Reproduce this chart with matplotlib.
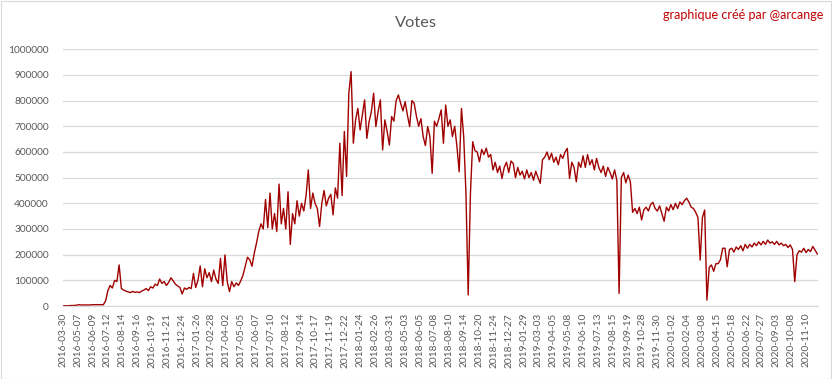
import matplotlib
matplotlib.use("Agg")
import matplotlib.pyplot as plt
from matplotlib.patches import Rectangle
import numpy as np

# tick labels (one every 33 categories)
tick_labels = [
    "2016-03-30", "2016-05-07", "2016-06-09", "2016-07-12", "2016-08-14", "2016-09-16",
    "2016-10-19", "2016-11-21", "2016-12-24", "2017-01-26", "2017-02-28", "2017-04-02",
    "2017-05-05", "2017-06-07", "2017-07-10", "2017-08-12", "2017-09-14", "2017-10-17",
    "2017-11-19", "2017-12-22", "2018-01-24", "2018-02-26", "2018-03-31", "2018-05-03",
    "2018-06-05", "2018-07-08", "2018-08-10", "2018-09-14", "2018-10-20", "2018-11-24",
    "2018-12-27", "2019-01-29", "2019-03-03", "2019-04-05", "2019-05-08", "2019-06-10",
    "2019-07-13", "2019-08-15", "2019-09-19", "2019-10-28", "2019-11-30", "2020-01-02",
    "2020-02-04", "2020-03-08", "2020-04-15", "2020-05-18", "2020-06-22", "2020-07-27",
    "2020-09-03", "2020-10-08", "2020-11-10",
]
tick_every = 33

votes_k = [
    0.5, 1, 1, 1.5, 2, 2, 3, 5, 4, 4,
    4, 4, 4, 5, 5, 5, 5, 5, 5, 20,
    60, 80, 70, 100, 95, 160, 68, 62, 58, 55,
    52, 57, 53, 55, 52, 58, 62, 68, 60, 75,
    70, 85, 80, 105, 88, 95, 80, 92, 110, 98,
    85, 78, 72, 47, 70, 65, 72, 68, 127, 72,
    100, 156, 75, 145, 110, 130, 95, 140, 105, 88,
    186, 80, 199, 95, 56, 95, 75, 90, 80, 98,
    120, 155, 190, 180, 155, 205, 245, 290, 320, 300,
    415, 305, 440, 300, 360, 290, 475, 320, 380, 300,
    445, 240, 360, 320, 410, 350, 400, 370, 430, 530,
    380, 440, 400, 380, 310, 400, 450, 390, 420, 435,
    355, 460, 420, 634, 430, 680, 505, 830, 913, 634,
    725, 770, 686, 744, 803, 653, 718, 757, 829, 699,
    757, 803, 608, 725, 680, 627, 738, 720, 800, 822,
    790, 760, 796, 744, 699, 800, 790, 740, 700, 730,
    660, 625, 699, 660, 517, 720, 700, 730, 764, 634,
    783, 700, 725, 660, 700, 621, 523, 770, 660, 440,
    43, 440, 640, 605, 600, 562, 610, 590, 615, 580,
    590, 530, 560, 520, 545, 497, 540, 560, 520, 565,
    555, 500, 540, 510, 525, 495, 530, 500, 520, 490,
    525, 500, 478, 570, 580, 600, 570, 595, 560, 580,
    550, 590, 575, 600, 614, 497, 560, 540, 484, 560,
    540, 585, 540, 590, 550, 570, 530, 575, 540, 520,
    545, 505, 540, 520, 495, 530, 490, 49, 500, 520,
    480, 510, 485, 365, 380, 360, 385, 335, 375, 385,
    370, 395, 404, 380, 370, 390, 360, 330, 385, 370,
    395, 375, 400, 380, 405, 395, 410, 420, 405, 385,
    380, 365, 345, 179, 345, 374, 23, 150, 160, 135,
    165, 165, 180, 225, 225, 153, 220, 225, 210, 230,
    220, 235, 215, 240, 225, 240, 230, 245, 235, 250,
    238, 252, 240, 257, 245, 250, 240, 252, 238, 245,
    235, 240, 228, 238, 220, 95, 200, 215, 210, 225,
    208, 220, 212, 232, 218, 203,
]
sample_step = 5

yticks = [0, 100000, 200000, 300000, 400000, 500000, 600000, 700000, 800000, 900000, 1000000]

plt.rcParams['font.family'] = ['Lato', 'DejaVu Sans']

W, H = 832, 379
fig = plt.figure(figsize=(W / 100, H / 100), dpi=100)
fig.patches.append(Rectangle((0.5 / W, 0.5 / H), 1 - 1.5 / W, 1 - 1.5 / H, transform=fig.transFigure,
                             fill=False, edgecolor='#d9d9d9', linewidth=0.8))

left, right, top, bottom = 62.6, 817.5, 49.3, 306
ax = fig.add_axes([left / W, 1 - bottom / H, (right - left) / W, (bottom - top) / H])

x = np.arange(len(votes_k)) * sample_step
y = np.array(votes_k) * 1000
ax.plot(x, y, color='#A00000', linewidth=1.0, solid_joinstyle='round')

ax.set_xlim(-0.5, (len(votes_k) - 1) * sample_step + 0.5)
ax.set_ylim(0, 1000000)
ax.set_yticks(yticks)
ax.set_yticklabels([str(v) for v in yticks], fontsize=7.3, color='#595959')
ax.set_xticks(np.arange(len(tick_labels)) * tick_every)
ax.set_xticklabels(tick_labels, rotation=90, fontsize=7.3, color='#595959')
ax.tick_params(axis='both', length=0)
ax.tick_params(axis='y', pad=10)
ax.tick_params(axis='x', pad=5)
ax.grid(axis='y', color='#d9d9d9', linewidth=0.9)
ax.set_axisbelow(True)
for s in ['top', 'right', 'left']:
    ax.spines[s].set_visible(False)
ax.spines['bottom'].set_color('#d9d9d9')
ax.spines['bottom'].set_linewidth(0.9)

fig.text(416 / W, 1 - 23 / H, "Votes", ha='center', va='center', fontsize=11.8, color='#595959')
fig.text(823 / W, 1 - 15 / H, "graphique créé par @arcange", ha='right', va='center', fontsize=9,
         color='#C00000')

fig.savefig("out.png", dpi=100)
